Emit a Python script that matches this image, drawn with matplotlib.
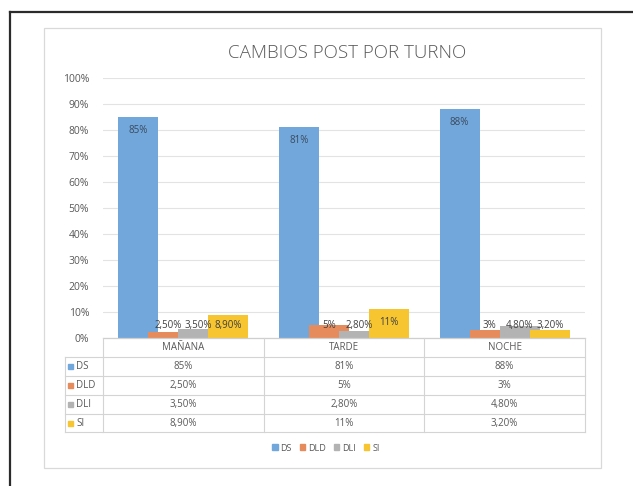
import matplotlib
matplotlib.use("Agg")
import matplotlib.pyplot as plt
from matplotlib.lines import Line2D
from matplotlib.patches import Rectangle
from matplotlib.transforms import blended_transform_factory
import numpy as np

categories = ["MAÑANA", "TARDE", "NOCHE"]
series_names = ["DS", "DLD", "DLI", "SI"]
ds = [85, 81, 88]
dld = [2.5, 5, 3]
dli = [3.5, 2.8, 4.8]
si = [8.9, 11, 3.2]
ds_lbl = ["85%", "81%", "88%"]
dld_lbl = ["2,50%", "5%", "3%"]
dli_lbl = ["3,50%", "2,80%", "4,80%"]
si_lbl = ["8,90%", "11%", "3,20%"]
yticks = [0, 10, 20, 30, 40, 50, 60, 70, 80, 90, 100]
title = "CAMBIOS POST POR TURNO"

values = [ds, dld, dli, si]
labels = [ds_lbl, dld_lbl, dli_lbl, si_lbl]
colors = ["#72A7DC", "#E58B5C", "#B3B3B3", "#F6C530"]
txt = "#595959"
FONT = "Open Sans"

W, H = 633, 486
fig = plt.figure(figsize=(W / 100, H / 100), dpi=100)
fig.patch.set_facecolor("white")

def fx(x):
    return x / W

def fy(y):
    return 1 - y / H

# outer black frame
fig.add_artist(Line2D([fx(10), fx(10)], [fy(12), 0], color="#2b2b2b", lw=1.6))
fig.add_artist(Line2D([fx(10), 1], [fy(12), fy(12)], color="#2b2b2b", lw=1.6))
# inner chart border
fig.add_artist(Rectangle((fx(44), fy(468)), fx(601) - fx(44), fy(28) - fy(468),
                         fill=False, ec="#d9d9d9", lw=0.9))

x0, x1, ytop, ybot = 103, 585, 78, 338
ax = fig.add_axes([fx(x0), fy(ybot), fx(x1) - fx(x0), fy(ytop) - fy(ybot)])
ax.set_xlim(-0.5, len(categories) - 0.5)
ax.set_ylim(0, 100)
ax.set_yticks(yticks)
ax.set_yticklabels([f"{t}%" for t in yticks], fontsize=7.5, color=txt, family=FONT)
ax.tick_params(axis="y", length=0, pad=10)
ax.set_xticks([])
for s in ax.spines.values():
    s.set_visible(False)
ax.grid(axis="y", color="#e3e3e3", lw=0.8)
ax.set_axisbelow(True)

x = np.arange(len(categories))
step = 0.187
width = 0.25
offsets = (np.arange(4) - 1.5) * step
for i, (vals, lbls, c) in enumerate(zip(values, labels, colors)):
    ax.bar(x + offsets[i], vals, width=width, color=c, zorder=2 + i)
    for xi, v, l in zip(x, vals, lbls):
        yc = max(v - 5, 5)
        ax.text(xi + offsets[i], yc, l, ha="center", va="center", fontsize=7,
                color="#3b4a5c" if i == 0 else "#404040", family=FONT, zorder=10)

fig.text(fx(347), fy(53), title, ha="center", va="center", fontsize=13.5,
         color=txt, family=FONT, fontweight="light")

# data table
tr = blended_transform_factory(ax.transData, fig.transFigure)
row_edges = [338, 357, 376, 395, 414, 432]
lc = "#d4d4d4"
# horizontal lines
fig.add_artist(Line2D([fx(x0), fx(x1)], [fy(338), fy(338)], color="#cfcfcf", lw=0.9))
for ye in row_edges[1:]:
    fig.add_artist(Line2D([fx(65), fx(x1)], [fy(ye), fy(ye)], color=lc, lw=0.8))
# vertical lines
fig.add_artist(Line2D([fx(65), fx(65)], [fy(357), fy(432)], color=lc, lw=0.8))
for k in range(len(categories) + 1):
    xe = x0 + k * (x1 - x0) / len(categories)
    fig.add_artist(Line2D([fx(xe), fx(xe)], [fy(338), fy(432)], color=lc, lw=0.8))
# header
for xi, cat in zip(x, categories):
    fig.text(xi, fy(347.5), cat, transform=tr, ha="center", va="center",
             fontsize=7, color=txt, family=FONT)
# rows
for r, (name, lbls, c) in enumerate(zip(series_names, labels, colors)):
    yc = (row_edges[r + 1] + row_edges[r + 2]) / 2
    fig.add_artist(Rectangle((fx(68), fy(yc) - 2.5 / H), 5 / W, 5 / H, color=c))
    fig.text(fx(76), fy(yc), name, ha="left", va="center", fontsize=7,
             color=txt, family=FONT)
    for xi, l in zip(x, lbls):
        fig.text(xi, fy(yc), l, transform=tr, ha="center", va="center",
                 fontsize=7, color=txt, family=FONT)

# legend
handles = [Rectangle((0, 0), 1, 1, color=c) for c in colors]
fig.legend(handles, series_names, loc="center", bbox_to_anchor=(fx(326), fy(448)),
           ncol=4, frameon=False, fontsize=6.5, handlelength=0.6, handleheight=0.6,
           handletextpad=0.3, columnspacing=0.9, labelcolor=txt,
           prop={"family": FONT, "size": 6.5})

fig.savefig("out.png", dpi=100)
